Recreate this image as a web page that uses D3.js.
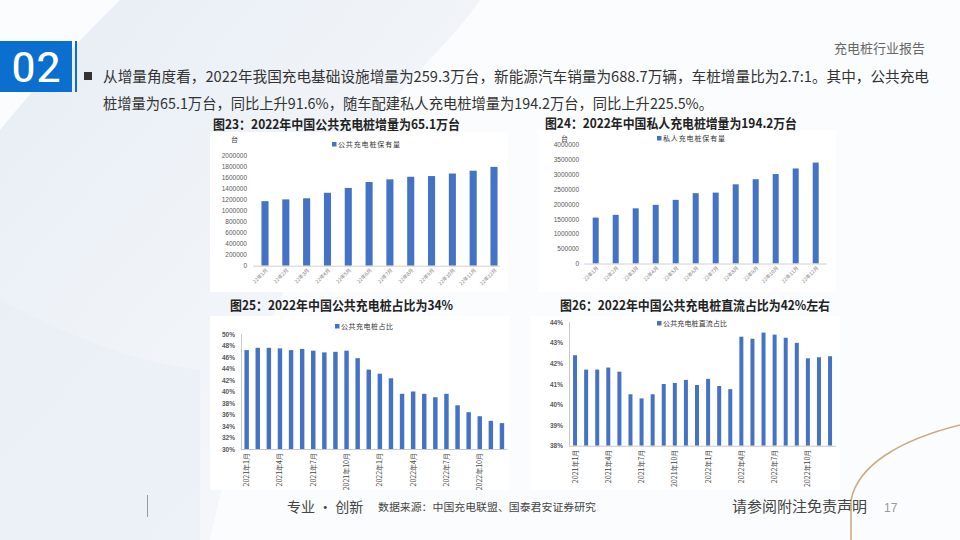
<!DOCTYPE html>
<html><head><meta charset="utf-8">
<script src="https://cdn.jsdelivr.net/npm/d3@7"></script>
<style>html,body{margin:0;padding:0;background:#fff;}svg{display:block;}</style>
</head><body>
<svg id="c" width="960" height="540"></svg>
<script>
// ---- data ----
const months22 = ["22年1月","22年2月","22年3月","22年4月","22年5月","22年6月","22年7月","22年8月","22年9月","22年10月","22年11月","22年12月"];
const publicStock = [1173000,1206000,1226000,1326000,1414000,1522000,1570000,1617000,1630000,1676000,1727000,1797000];
const privateStock = [1545000,1638000,1857000,1975000,2143000,2367000,2387000,2666000,2838000,3010000,3200000,3397000];
const months2122 = ["2021年1月","2021年2月","2021年3月","2021年4月","2021年5月","2021年6月","2021年7月","2021年8月","2021年9月","2021年10月","2021年11月","2021年12月",
  "2022年1月","2022年2月","2022年3月","2022年4月","2022年5月","2022年6月","2022年7月","2022年8月","2022年9月","2022年10月","2022年11月","2022年12月"];
const publicShare = [47.2,47.6,47.6,47.5,47.2,47.4,47.1,46.8,46.9,47.1,45.8,43.8,43.1,42.3,39.6,40.0,39.6,39.0,39.6,37.6,36.4,35.7,34.9,34.5];
const dcShare = [42.4,41.7,41.7,41.8,41.6,40.5,40.3,40.5,41.0,41.05,41.2,40.95,41.25,40.9,40.75,43.3,43.2,43.5,43.4,43.25,43.0,42.25,42.3,42.35];
const ticks1 = [0,200000,400000,600000,800000,1000000,1200000,1400000,1600000,1800000,2000000];
const ticks2 = [0,500000,1000000,1500000,2000000,2500000,3000000,3500000,4000000];
const ticks3 = [30,32,34,36,38,40,42,44,46,48,50];
const ticks4 = [38,39,40,41,42,43,44];
const titles = ["图23：2022年中国公共充电桩增量为65.1万台","图24：2022年中国私人充电桩增量为194.2万台","图25：2022年中国公共充电桩占比为34%","图26：2022年中国公共充电桩直流占比为42%左右"];
const legends = ["公共充电桩保有量","私人充电桩保有量","公共充电桩占比","公共充电桩直流占比"];
const bullet1 = "从增量角度看，2022年我国充电基础设施增量为259.3万台，新能源汽车销量为688.7万辆，车桩增量比为2.7:1。其中，公共充电";
const bullet2 = "桩增量为65.1万台，同比上升91.6%，随车配建私人充电桩增量为194.2万台，同比上升225.5%。";

const BLUE = "#4472C4";
const FONT = "'Noto Sans CJK SC','Noto Sans',sans-serif";
const svg = d3.select("#c");

// ---- background ----
const defs = svg.append("defs");
const g1 = defs.append("linearGradient").attr("id","bg1").attr("x1","0").attr("y1","0").attr("x2","1").attr("y2","1");
g1.append("stop").attr("offset","0").attr("stop-color","#e3eaf3").attr("stop-opacity",0.85);
g1.append("stop").attr("offset","1").attr("stop-color","#eef3f8").attr("stop-opacity",0.3);
svg.append("rect").attr("width",960).attr("height",540).attr("fill","#fbfcfd");
svg.append("path").attr("d","M120,0 L480,0 C420,90 300,130 210,540 L0,540 L0,130 C40,80 80,40 120,0 Z").attr("fill","url(#bg1)");
svg.append("path").attr("d","M0,300 C60,330 120,360 200,370 L200,540 L0,540 Z").attr("fill","#e8eef5").attr("opacity",0.6);
// bronze curve
svg.append("path").attr("d","M960,425 C900,440 858,465 851,500 L851,540").attr("fill","none").attr("stroke","#c9ad86").attr("stroke-width",1.6);

// ---- header ----
svg.append("rect").attr("x",0).attr("y",41).attr("width",72).attr("height",51).attr("fill","#0a6fce");
svg.append("rect").attr("x",75).attr("y",41).attr("width",2).attr("height",51).attr("fill","#0a6fce");
svg.append("text").attr("x",36).attr("y",82).attr("text-anchor","middle").attr("fill","#fff")
  .attr("font-family","'Liberation Sans Narrow','Roboto Condensed','Liberation Sans',sans-serif").attr("font-size",42)
  .attr("textLength",50).attr("lengthAdjust","spacingAndGlyphs").text("02");
svg.append("text").attr("x",925).attr("y",53).attr("text-anchor","end").attr("fill","#666")
  .attr("font-family",FONT).attr("font-size",13).text("充电桩行业报告");
svg.append("rect").attr("x",84).attr("y",72).attr("width",8).attr("height",8).attr("fill","#333");
svg.append("text").attr("x",103).attr("y",82).attr("fill","#333").attr("font-family",FONT).attr("font-size",15)
  .attr("textLength",826).attr("lengthAdjust","spacingAndGlyphs").text(bullet1);
svg.append("text").attr("x",103).attr("y",109).attr("fill","#333").attr("font-family",FONT).attr("font-size",15)
  .attr("textLength",610).attr("lengthAdjust","spacingAndGlyphs").text(bullet2);

// ---- chart backgrounds ----
[[210,132,298,160],[538,130,298,162],[210,316,300,174],[530,316,310,174]].forEach(r=>{
  svg.append("rect").attr("x",r[0]).attr("y",r[1]).attr("width",r[2]).attr("height",r[3]).attr("fill","#fff");
});

// ---- titles ----
[[213,129,247],[545,128,252],[230,310,223],[560,310,270]].forEach((p,i)=>{
  svg.append("text").attr("x",p[0]).attr("y",p[1]).attr("fill","#222").attr("font-family",FONT).attr("font-weight","bold")
    .attr("font-size",13).attr("textLength",p[2]).attr("lengthAdjust","spacingAndGlyphs").text(titles[i]);
});

function legend(x,y,txt,w){
  svg.append("rect").attr("x",x).attr("y",y-5).attr("width",4.5).attr("height",4.5).attr("fill",BLUE);
  svg.append("text").attr("x",x+6).attr("y",y).attr("fill","#333").attr("font-family",FONT).attr("font-size",7)
    .attr("textLength",w).attr("lengthAdjust","spacing").text(txt);
}

// ---- chart 1 & 2 (stock) ----
function stockChart(cfg){
  const x = d3.scaleBand().domain(months22).range(cfg.xr).paddingInner(cfg.pad).paddingOuter(cfg.pad/2);
  const y = d3.scaleLinear().domain([0,cfg.max]).range(cfg.yr);
  const g = svg.append("g");
  g.selectAll("rect.b").data(cfg.vals).join("rect").attr("x",(d,i)=>x(months22[i])).attr("width",x.bandwidth())
    .attr("y",d=>y(d)).attr("height",d=>y(0)-y(d)).attr("fill",BLUE);
  g.append("line").attr("x1",cfg.axX[0]).attr("x2",cfg.axX[1]).attr("y1",y(0)+0.5).attr("y2",y(0)+0.5).attr("stroke","#d0d0d0");
  const ax = d3.axisLeft(y).tickValues(cfg.ticks).tickSize(0).tickPadding(0).tickFormat(d3.format("d"));
  const ag = g.append("g").attr("transform",`translate(${cfg.labX},0)`).call(ax);
  ag.select(".domain").remove();
  ag.selectAll("text").attr("font-family","'Liberation Sans',sans-serif").attr("font-size",6.5).attr("fill","#595959");
  g.append("text").attr("x",cfg.unit[0]).attr("y",cfg.unit[1]).attr("font-family",FONT).attr("font-size",7).attr("fill","#444").text("台");
  g.selectAll("text.cat").data(months22).join("text").attr("class","cat")
    .attr("transform",d=>`translate(${x(d)+x.bandwidth()/2+3},${y(0)+5}) rotate(-45)`)
    .attr("text-anchor","end").attr("font-family",FONT).attr("font-size",5).attr("fill","#777").text(d=>d);
  legend(cfg.leg[0],cfg.leg[1],cfg.legTxt,cfg.legW);
}
stockChart({vals:publicStock,max:2000000,xr:[254.6,504.4],yr:[265.7,155.7],pad:0.66,axX:[253,500],labX:247,ticks:ticks1,unit:[231,142],leg:[332,147],legTxt:legends[0],legW:62});
stockChart({vals:privateStock,max:4000000,xr:[585.7,825.7],yr:[263.5,144.7],pad:0.7,axX:[584,827],labX:579,ticks:ticks2,unit:[561,141],leg:[657,141],legTxt:legends[1],legW:62});

// ---- chart 3 & 4 (share) ----
function shareChart(cfg){
  const x = d3.scaleBand().domain(months2122).range(cfg.xr).paddingInner(cfg.pad).paddingOuter(cfg.pad/2);
  const y = d3.scaleLinear().domain(cfg.dom).range(cfg.yr);
  const g = svg.append("g");
  g.selectAll("rect.b").data(cfg.vals).join("rect").attr("x",(d,i)=>x(months2122[i])).attr("width",x.bandwidth())
    .attr("y",d=>y(d)).attr("height",d=>y(cfg.dom[0])-y(d)).attr("fill",BLUE);
  g.append("line").attr("x1",cfg.axL+0.5).attr("x2",cfg.axL+0.5).attr("y1",cfg.yr[1]).attr("y2",cfg.yr[0]).attr("stroke","#c8c8c8");
  g.append("line").attr("x1",cfg.axL).attr("x2",cfg.axR).attr("y1",cfg.yr[0]+0.5).attr("y2",cfg.yr[0]+0.5).attr("stroke","#c8c8c8");
  const ax = d3.axisLeft(y).tickValues(cfg.ticks).tickSize(0).tickPadding(0).tickFormat(d=>d+"%");
  const ag = g.append("g").attr("transform",`translate(${cfg.labX},0)`).call(ax);
  ag.select(".domain").remove();
  ag.selectAll("text").attr("font-family","'Liberation Sans',sans-serif").attr("font-size",6.5).attr("font-weight","bold").attr("fill","#595959");
  const clipId = "clip"+cfg.id;
  defs.append("clipPath").attr("id",clipId).append("rect").attr("x",cfg.xr[0]-10).attr("y",cfg.yr[0]).attr("width",cfg.xr[1]-cfg.xr[0]+20).attr("height",490-cfg.yr[0]);
  g.append("g").attr("clip-path",`url(#${clipId})`).selectAll("text.cat").data(months2122.filter((d,i)=>i%3===0)).join("text")
    .attr("transform",d=>`translate(${x(d)+x.bandwidth()/2+2.5},${cfg.yr[0]+4}) rotate(-90)`)
    .attr("text-anchor","end").attr("font-family",FONT).attr("font-size",7).attr("fill","#444").text(d=>d);
  legend(cfg.leg[0],cfg.leg[1],cfg.legTxt,cfg.legW);
}
shareChart({id:3,vals:publicShare,dom:[30,50],xr:[241.1,507.5],yr:[449,334],pad:0.6,axL:241,axR:507,labX:235,ticks:ticks3,leg:[335,329],legTxt:legends[2],legW:52});
shareChart({id:4,vals:dcShare,dom:[38,44],xr:[569.5,835.6],yr:[445.7,322.3],pad:0.64,axL:569,axR:836,labX:563,ticks:ticks4,leg:[657,326],legTxt:legends[3],legW:64});

// ---- footer ----
svg.append("line").attr("x1",147.5).attr("x2",147.5).attr("y1",495).attr("y2",517).attr("stroke","#999");
svg.append("text").attr("x",287).attr("y",512).attr("fill","#444").attr("font-family",FONT).attr("font-size",14).text("专业 · 创新");
svg.append("text").attr("x",378).attr("y",511).attr("fill","#444").attr("font-family",FONT).attr("font-size",10.5)
  .attr("textLength",218).attr("lengthAdjust","spacingAndGlyphs").text("数据来源：中国充电联盟、国泰君安证券研究");
svg.append("text").attr("x",732).attr("y",512).attr("fill","#444").attr("font-family",FONT).attr("font-size",15)
  .attr("textLength",135).attr("lengthAdjust","spacingAndGlyphs").text("请参阅附注免责声明");
svg.append("text").attr("x",884).attr("y",512).attr("fill","#999").attr("font-family","'Liberation Sans Narrow','Liberation Sans',sans-serif").attr("font-size",12).text("17");
</script>
</body></html>
